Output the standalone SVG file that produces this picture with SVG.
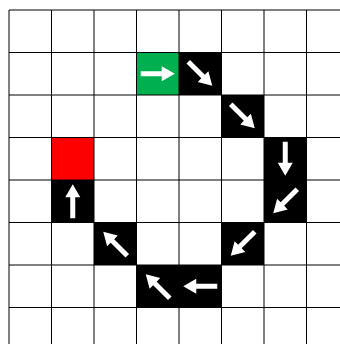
<svg xmlns="http://www.w3.org/2000/svg" width="340" height="344" viewBox="0 0 340 344">
<style>
.grid line{stroke:#000;stroke-width:1}
.blk{fill:#000}
.arr{fill:#fff}
</style>
<defs>
<path id="arrow" d="M-17,-2.5 H4 V-7.5 L17,0 L4,7.5 V2.5 H-17 Z"/>
</defs>
<rect width="340" height="344" fill="#fff"/>
<g id="cells">
<g id="start"><rect x="136.5" y="52.5" width="42.5" height="42.5" fill="#00B050"/><use href="#arrow" class="arr" transform="translate(157.75,73.75)"/></g>
<g id="s1"><rect class="blk" x="179" y="52.5" width="42.5" height="42.5"/><use href="#arrow" class="arr" transform="translate(200.25,73.75) rotate(45)"/></g>
<g id="s2"><rect class="blk" x="221.5" y="95" width="42.5" height="42.5"/><use href="#arrow" class="arr" transform="translate(242.75,116.25) rotate(45)"/></g>
<g id="s3"><rect class="blk" x="264" y="137.5" width="42.5" height="42.5"/><use href="#arrow" class="arr" transform="translate(285.25,158.75) rotate(90)"/></g>
<g id="s4"><rect class="blk" x="264" y="180" width="42.5" height="42.5"/><use href="#arrow" class="arr" transform="translate(285.25,201.25) rotate(135)"/></g>
<g id="s5"><rect class="blk" x="221.5" y="222.5" width="42.5" height="42.5"/><use href="#arrow" class="arr" transform="translate(242.75,243.75) rotate(135)"/></g>
<g id="s6"><rect class="blk" x="179" y="265" width="42.5" height="42.5"/><use href="#arrow" class="arr" transform="translate(200.25,286.25) rotate(180)"/></g>
<g id="s7"><rect class="blk" x="136.5" y="265" width="42.5" height="42.5"/><use href="#arrow" class="arr" transform="translate(157.75,286.25) rotate(225)"/></g>
<g id="s8"><rect class="blk" x="94" y="222.5" width="42.5" height="42.5"/><use href="#arrow" class="arr" transform="translate(115.25,243.75) rotate(225)"/></g>
<g id="s9"><rect class="blk" x="51.5" y="180" width="42.5" height="42.5"/><use href="#arrow" class="arr" transform="translate(72.75,201.25) rotate(270)"/></g>
<g id="goal"><rect x="51.5" y="137.5" width="42.5" height="42.5" fill="#FF0000"/></g>
</g>
<g id="connectors" class="grid">
<line x1="9" y1="10" x2="9" y2="344"/>
<line x1="51.5" y1="10" x2="51.5" y2="344"/>
<line x1="94" y1="10" x2="94" y2="344"/>
<line x1="136.5" y1="10" x2="136.5" y2="344"/>
<line x1="179" y1="10" x2="179" y2="344"/>
<line x1="221.5" y1="10" x2="221.5" y2="344"/>
<line x1="264" y1="10" x2="264" y2="344"/>
<line x1="306.5" y1="10" x2="306.5" y2="344"/>
<line x1="9" y1="10" x2="340" y2="10"/>
<line x1="9" y1="52.5" x2="340" y2="52.5"/>
<line x1="9" y1="95" x2="340" y2="95"/>
<line x1="9" y1="137.5" x2="340" y2="137.5"/>
<line x1="9" y1="180" x2="340" y2="180"/>
<line x1="9" y1="222.5" x2="340" y2="222.5"/>
<line x1="9" y1="265" x2="340" y2="265"/>
<line x1="9" y1="307.5" x2="340" y2="307.5"/>
</g>
</svg>
